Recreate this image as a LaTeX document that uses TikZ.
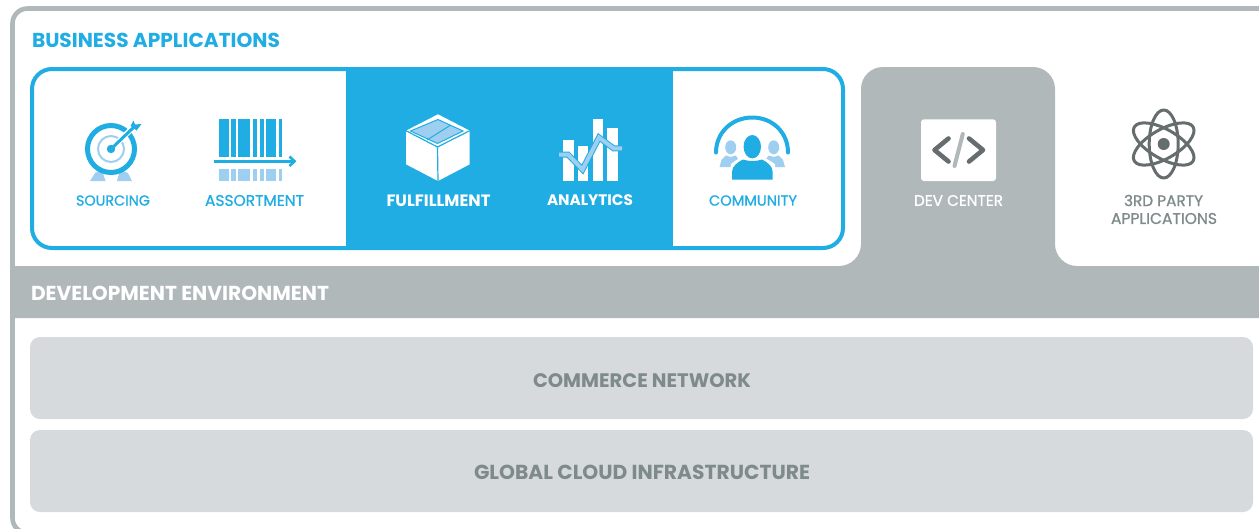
\documentclass[tikz,border=0pt]{standalone}
\usepackage{fontspec}
\usepackage{graphicx}
\setmainfont{Poppins}
\newfontfamily\popmed{Poppins}[FakeBold=1]
\definecolor{bluemain}{HTML}{1FADE3}
\definecolor{bluelight}{HTML}{9FCFF0}
\definecolor{graymain}{HTML}{B1B8B9}
\definecolor{graylight}{HTML}{D6DADD}
\definecolor{graytext}{HTML}{7F8A8A}
\definecolor{graydark}{HTML}{656D6E}
\newcommand{\fitw}[2]{\resizebox{#1pt}{!}{\fontsize{12pt}{14pt}\popmed #2}}
\newcommand{\fitb}[2]{\resizebox{#1pt}{!}{\fontsize{12pt}{14pt}\selectfont\bfseries #2}}
\tikzset{
  lab/.style={inner sep=0pt,outer sep=0pt,anchor=center,align=center},
  bluelab/.style={lab,text=bluemain},
  whitelab/.style={lab,text=white},
  greylab/.style={lab,text=graytext},
  band/.style={fill=graylight,rounded corners=10pt},
  darkline/.style={draw=graydark,line width=3pt,line cap=round,line join=round},
}
\begin{document}
\begin{tikzpicture}[x=1pt,y=-1pt]
\useasboundingbox (0,0) rectangle (1259,528);
\fill[white] (0,0) rectangle (1259,528);
% frame, its bottom edge just below the picture
\begin{scope}
\clip (0,0) rectangle (1259,528);
\draw[graymain,line width=4.6pt,rounded corners=15pt] (1259,8.5) -- (12.5,8.5) -- (12.5,533) -- (1259,533);
\end{scope}
% development environment band with dev center tab
\fill[graymain] (1259,318) -- (12,318) -- (12,266) [rounded corners=22pt] -- (861,266) -- (861,67) -- (1055,67) -- (1055,266) [sharp corners] -- (1259,266) -- cycle;
% business applications box
\fill[bluemain] (346,67) rectangle (673,250);
\draw[bluemain,line width=4pt,rounded corners=20pt] (32,69) rectangle (843,248);
% lower bands
\fill[band] (30,337) rectangle (1253,419);
\fill[band] (30,430) rectangle (1253,512);
% sourcing icon
\fill[bluelight] (90,181) -- (95,173) -- (102,170) -- (105.5,181) -- cycle;
\fill[bluelight] (117,181) -- (120,170) -- (128,173) -- (132,181) -- cycle;
\draw[draw=bluemain,fill=white,line width=5pt] (111,149) circle (23.5pt);
\draw[bluelight,line width=2pt] (111,149) circle (13pt);
\draw[white,line width=5.5pt] (111,149) -- (133,127.5);
\fill[bluemain] (111,149) circle (4.2pt);
\draw[bluemain,line width=3pt] (111,149) -- (134,127);
\fill[bluemain] (133.5,120.5) -- (135,124.5) -- (141.5,124) -- (136.5,130.5) -- (134,128) -- (130.5,126) -- cycle;
% assortment icon
\foreach \a/\b in {218.7/229,231/236,238.3/250.3,253.3/257,260/263.7,266.3/276,278.7/282.3}{
  \fill[bluemain] (\a,119.3) rectangle (\b,157.3);
  \fill[bluelight] (\a,169) rectangle (\b,181);
}
\draw[bluemain,line width=2.6pt] (214,161.3) -- (294,161.3);
\draw[bluemain,line width=2.6pt] (289.5,156.5) -- (294.5,161.3) -- (289.5,166);
% fulfillment icon
\fill[white] (438,114.3) -- (469.7,130.7) -- (469.7,164.3) -- (438,181) -- (406,164.3) -- (406,130.7) -- cycle;
\draw[bluemain,line width=1.2pt] (406,130.7) -- (437.5,147) -- (469.7,130.7) (437.5,147) -- (438,181);
\fill[bluelight] (410.5,131) -- (438,119.5) -- (463,131) -- (437.5,143.5) -- cycle;
\draw[bluemain,line width=1pt] (427,140) -- (450,125.5);
\draw[bluemain,line width=1pt] (410.5,131) -- (438,119.5) -- (463,131) -- (437.5,143.5) -- cycle;
% analytics icon
\fill[white] (563.3,140) rectangle (573.7,180.7);
\fill[white] (578,146) rectangle (588.3,180.7);
\fill[white] (592.7,119.3) rectangle (603,180.7);
\fill[white] (607.3,128.3) rectangle (617.7,180.7);
\draw[bluemain,line width=6pt] (559,154.5) -- (568,154.5) -- (582.5,169.5) -- (599,137.5) -- (613.5,148.3) -- (622,148.3);
\draw[bluelight,line width=4pt] (559,154.5) -- (568,154.5) -- (582.5,169.5) -- (599,137.5) -- (613.5,148.3) -- (622,148.3);
% community icon
\draw[bluemain,line width=4pt,line cap=round] (716,152.5) .. controls (716,132.5) and (732,117.5) .. (752.3,117.5) .. controls (772.5,117.5) and (788,132.5) .. (788,152.5);
\foreach \c/\l/\r in {730.7/719.5/741,773.7/763/785}{
  \fill[bluelight] (\c,147.3) ellipse (5.5pt and 7pt);
  \fill[bluelight] (\l,167) -- (\l+2,160) -- (\c-5,155.5) -- (\c,157) -- (\c+5,155.5) -- (\r-2,160) -- (\r,167) -- cycle;
}
\fill[white] (729,180) -- (731,164) -- (742,156) -- (762,156) -- (775,164) -- (776,180) -- cycle;
\fill[bluemain] (752.3,146.7) ellipse (8.7pt and 11.7pt);
\fill[bluemain] (732,179.5) -- (732,172) .. controls (732,166) and (738,162) .. (743,159.5) .. controls (748,161.5) and (757,161.5) .. (762,159.5) .. controls (767,162) and (772.7,166) .. (772.7,172) -- (772.7,179.5) -- cycle;
% dev center icon
\fill[white,rounded corners=3pt] (921,119.3) rectangle (996,181);
\draw[graydark,line width=4.6pt,line cap=round,line join=round] (948.5,138.5) -- (934.5,150) -- (948.5,161.5);
\draw[graydark,line width=4.6pt,line cap=round,line join=round] (969,138.5) -- (983,150) -- (969,161.5);
\draw[graymain,line width=4pt,line cap=round] (962.8,134) -- (954.5,166);
% third party icon
\foreach \ang in {0,60,-60}{
  \draw[darkline,rotate around={\ang:(1163.7,144)}] (1163.7,144) ellipse (14.5pt and 34pt);
}
\fill[graydark] (1163.7,144) circle (6pt);
% labels
\node[bluelab,anchor=west] (tbiz) at (32,40.5) {\fitb{248}{BUSINESS APPLICATIONS}};
\node[bluelab] (tsrc) at (113,200.5) {\fitw{74}{SOURCING}};
\node[bluelab] (tass) at (254.5,200.5) {\fitw{99}{ASSORTMENT}};
\node[whitelab] (tful) at (438.5,200.5) {\fitb{104}{FULFILLMENT}};
\node[whitelab] (tana) at (590,200.5) {\fitb{86}{ANALYTICS}};
\node[bluelab] (tcom) at (753,200.5) {\fitw{88}{COMMUNITY}};
\node[whitelab] (tdev) at (958.5,200.5) {\fitw{89}{DEV CENTER}};
\node[greylab] (t3rd) at (1163.5,200.5) {\fitw{79}{3RD PARTY}};
\node[greylab] (tapp) at (1164,218.5) {\fitw{106}{APPLICATIONS}};
\node[whitelab,anchor=west] (tenv) at (31,293) {\fitb{298}{DEVELOPMENT ENVIRONMENT}};
\node[greylab] (tnet) at (642,380.5) {\fitb{218}{COMMERCE NETWORK}};
\node[greylab] (tglo) at (642,472.5) {\fitb{336}{GLOBAL CLOUD INFRASTRUCTURE}};
\end{tikzpicture}
\end{document}
